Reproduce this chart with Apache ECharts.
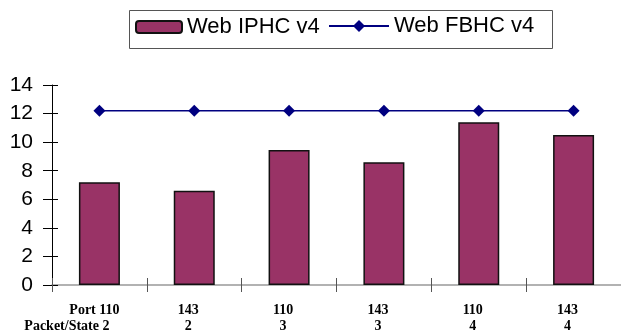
<!DOCTYPE html>
<html>
<head>
<meta charset="utf-8">
<script src="https://cdn.jsdelivr.net/npm/echarts@6/dist/echarts.min.js"></script>
<style>
  html, body { margin: 0; padding: 0; background: #fff; }
  #chart { width: 621px; height: 334px; }
</style>
</head>
<body>
<div id="chart"></div>
<script>
// Category parts: port number and packet/state count
const ports = ['110', '143', '110', '143', '110', '143'];
const states = ['2', '2', '3', '3', '4', '4'];
const categories = ports.map((p, i) => p + '|' + states[i]);

// Series values
const iphc = [7.2, 6.6, 9.45, 8.6, 11.4, 10.5];
const fbhc = [12.2, 12.2, 12.2, 12.2, 12.2, 12.2];

// Y axis range
const yMin = 0, yMax = 14, yStep = 2;

const chart = echarts.init(document.getElementById('chart'), null, { renderer: 'canvas' });

const yBase = {
  type: 'value', min: yMin, max: yMax, interval: yStep,
  splitLine: { show: false }
};
const legendText = { fontFamily: 'Liberation Sans, Arial, sans-serif', fontSize: 22, color: '#000' };
const serif = 'Liberation Serif, Times New Roman, serif';

chart.setOption({
  animation: false,
  backgroundColor: '#ffffff',
  grid: { left: 52, right: -1, top: 85, bottom: 49, containLabel: false },
  // frame around both legend entries
  graphic: [{
    type: 'rect', left: 127, top: 8,
    shape: { width: 423, height: 38 },
    style: { fill: 'none', stroke: '#555', lineWidth: 1 }
  }],
  legend: [{
    left: 131, top: 14, padding: [2, 4],
    itemWidth: 46, itemHeight: 12,
    textStyle: legendText,
    data: ['Web IPHC v4']
  }, {
    left: 324, top: 13, padding: [2, 4],
    itemWidth: 60, itemHeight: 15,
    textStyle: legendText,
    data: ['Web FBHC v4']
  }],
  xAxis: [{
    type: 'category', data: categories, boundaryGap: true,
    axisLine: { lineStyle: { color: '#999', width: 1.5 } },
    axisTick: { show: true, length: 7, lineStyle: { color: '#555' } },
    axisLabel: {
      margin: 17, interval: 0, color: '#000',
      formatter: function (v, i) {
        const [p, s] = v.split('|');
        if (i === 0) return '{a|Port ' + p + '}\n{b|Packet/State ' + s + '}';
        return '{c|' + p + '}\n{c|' + s + '}';
      },
      rich: {
        a: { fontFamily: serif, fontWeight: 'bold', fontSize: 14, lineHeight: 16, padding: [0, 10, 0, 0] },
        b: { fontFamily: serif, fontWeight: 'bold', fontSize: 14, lineHeight: 16, padding: [0, 65, 0, 0] },
        c: { fontFamily: serif, fontWeight: 'bold', fontSize: 14, lineHeight: 16, padding: [0, 12, 0, 0] }
      }
    }
  }, {
    // inner half of the crossing tick marks
    type: 'category', data: categories, position: 'bottom',
    axisLine: { show: false },
    axisTick: { show: true, inside: true, length: 7, lineStyle: { color: '#555' } },
    axisLabel: { show: false }
  }],
  yAxis: [Object.assign({}, yBase, {
    axisLine: { show: true, lineStyle: { color: '#000', width: 1 } },
    axisTick: { show: true, length: 9, lineStyle: { color: '#000' } },
    axisLabel: { margin: 19, color: '#000', fontFamily: 'Liberation Sans, Arial, sans-serif', fontSize: 21 }
  }), Object.assign({}, yBase, {
    position: 'left',
    axisLine: { show: false },
    axisTick: { show: true, inside: true, length: 6, lineStyle: { color: '#000' } },
    axisLabel: { show: false }
  })],
  series: [{
    name: 'Web IPHC v4', type: 'bar', data: iphc, barWidth: 41,
    itemStyle: { color: '#993366', borderColor: '#111', borderWidth: 1.5 },
    z: 2
  }, {
    name: 'Web FBHC v4', type: 'line', data: fbhc,
    symbol: 'diamond', symbolSize: 12,
    lineStyle: { color: '#000080', width: 1.5 },
    itemStyle: { color: '#000080' },
    z: 3
  }]
});
</script>
</body>
</html>
